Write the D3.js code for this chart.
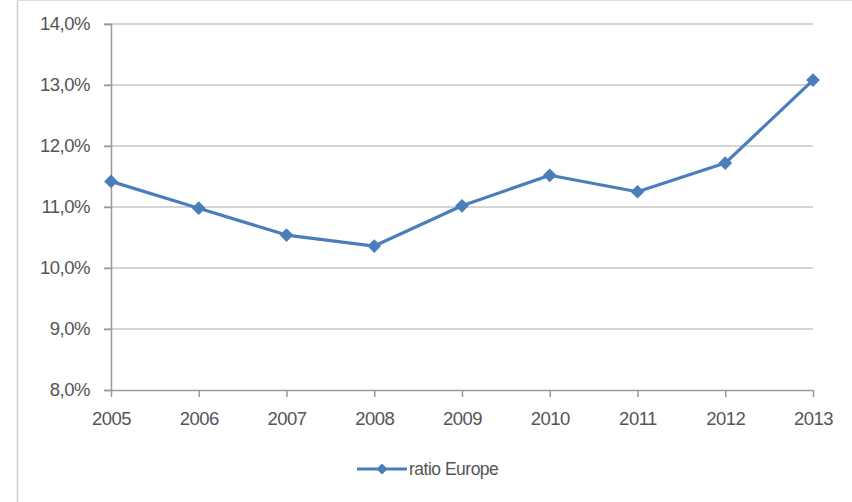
<!DOCTYPE html>
<html><head><meta charset="utf-8">
<script src="https://cdn.jsdelivr.net/npm/d3@7/dist/d3.min.js"></script>
<style>body{margin:0;background:#fff}svg{display:block}</style>
</head><body>
<svg id="c" width="852" height="502"></svg>
<script>
const years = [2005, 2006, 2007, 2008, 2009, 2010, 2011, 2012, 2013];
const ratioEurope = [11.42, 10.98, 10.54, 10.36, 11.02, 11.52, 11.25, 11.72, 13.08];
const yTicks = [8, 9, 10, 11, 12, 13, 14];
const seriesName = "ratio Europe";

const svg = d3.select("#c");
const font = "'Liberation Sans', Arial, sans-serif";
const textColor = "#555555";
const blue = "#4A7EBB";

// outer frame
svg.append("line").attr("x1",17.5).attr("x2",17.5).attr("y1",0).attr("y2",502).attr("stroke","#cfcfcf").attr("stroke-width",1.5);
svg.append("line").attr("x1",17).attr("x2",852).attr("y1",0.5).attr("y2",0.5).attr("stroke","#e0e0e0").attr("stroke-width",1);

const x = d3.scalePoint().domain(years).range([111, 813]);
const y = d3.scaleLinear().domain([8, 14]).range([390, 24]);

// gridlines
svg.append("g").selectAll("line").data(yTicks.filter(d => d > 8)).join("line")
  .attr("x1", 104).attr("x2", 813)
  .attr("y1", d => y(d)).attr("y2", d => y(d))
  .attr("stroke", "#d4d4d4").attr("stroke-width", 2.2);

// y axis
const yAxis = d3.axisLeft(y).tickValues(yTicks).tickSize(7).tickPadding(14)
  .tickFormat(d => d3.format(".1f")(d).replace(".", ",") + "%");
const gy = svg.append("g").attr("transform", "translate(111,0)").call(yAxis);
gy.select(".domain").attr("stroke", "#9a9a9a").attr("stroke-width", 1.5);
gy.selectAll(".tick line").attr("stroke", "#9a9a9a").attr("stroke-width", 1.5);
gy.selectAll("text").attr("fill", textColor).attr("font-family", font).attr("font-size", 18.5).attr("letter-spacing", -0.5);

// x axis
const xAxis = d3.axisBottom(x).tickSize(7).tickPadding(15).tickSizeOuter(0);
const gx = svg.append("g").attr("transform", "translate(0,390)").call(xAxis);
gx.select(".domain").attr("stroke", "#9a9a9a").attr("stroke-width", 1.5);
gx.selectAll(".tick line").attr("stroke", "#9a9a9a").attr("stroke-width", 1.5);
gx.selectAll("text").attr("fill", textColor).attr("font-family", font).attr("font-size", 18.5).attr("letter-spacing", -0.5);

// line
const data = years.map((yr, i) => ({yr, v: ratioEurope[i]}));
svg.append("path").datum(data)
  .attr("fill", "none").attr("stroke", blue).attr("stroke-width", 3.2)
  .attr("stroke-linejoin", "round")
  .attr("d", d3.line().x(d => x(d.yr)).y(d => y(d.v)));

const diamond = d3.symbol().type(d3.symbolDiamond2).size(120);
svg.append("g").selectAll("path").data(data).join("path")
  .attr("transform", d => `translate(${x(d.yr)},${y(d.v)})`)
  .attr("d", diamond).attr("fill", blue);

// legend
const lg = svg.append("g").attr("transform", "translate(357,469)");
lg.append("line").attr("x1", 0).attr("x2", 50).attr("y1", 0).attr("y2", 0).attr("stroke", blue).attr("stroke-width", 3.2);
lg.append("path").attr("transform", "translate(25,0)").attr("d", d3.symbol().type(d3.symbolDiamond2).size(80)).attr("fill", blue);
lg.append("text").attr("x", 52).attr("y", 0).attr("dy", "0.35em").text(seriesName)
  .attr("fill", textColor).attr("font-family", font).attr("font-size", 17.5).attr("letter-spacing", -0.5);
</script>
</body></html>
